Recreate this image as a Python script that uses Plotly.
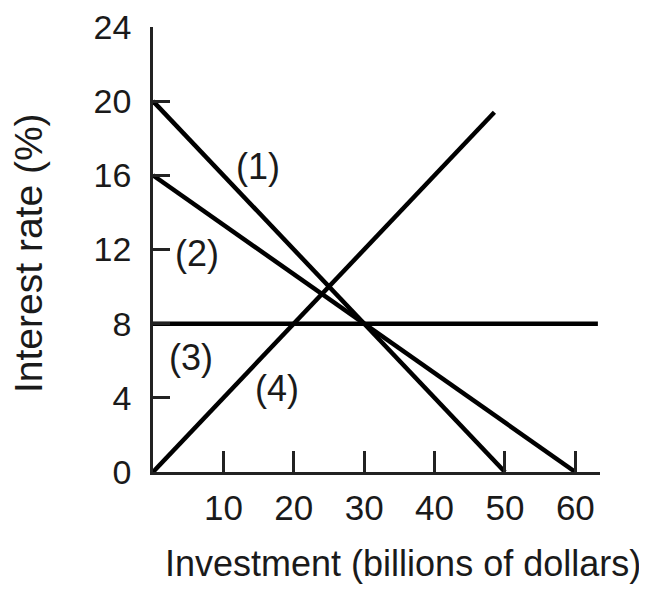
import plotly.graph_objects as go

# Data
line1_x = [0, 50]
line1_y = [20, 0]
line2_x = [0, 60]
line2_y = [16, 0]
line3_x = [0, 63.2]
line3_y = [8, 8]
line4_x = [0, 48.5]
line4_y = [0, 19.4]

x_ticks = [10, 20, 30, 40, 50, 60]
y_ticks = [0, 4, 8, 12, 16, 20, 24]

labels = ["(1)", "(2)", "(3)", "(4)"]
label_x = [14.9, 6.25, 5.4, 17.6]
label_y = [16.5, 11.8, 6.15, 4.5]

FONT = "Liberation Sans, Arial, sans-serif"
TXT = "#1a1a1a"

TOP = 27      # screen y of the 24 tick
BOTTOM = 472  # screen y of the 0 tick
LEFT = 153
RIGHT = 600

fig = go.Figure()
for xs, ys in [(line1_x, line1_y), (line2_x, line2_y), (line3_x, line3_y), (line4_x, line4_y)]:
    fig.add_trace(go.Scatter(x=xs, y=ys, mode="lines",
                             line=dict(color="black", width=4.5),
                             showlegend=False, hoverinfo="skip", cliponaxis=False))

for t, x, y in zip(labels, label_x, label_y):
    fig.add_annotation(x=x, y=y, xref="x", yref="y", text=t, showarrow=False,
                       font=dict(family=FONT, size=36, color=TXT))

ph = BOTTOM - TOP
pw = RIGHT - LEFT
fig.add_annotation(x=(403 - LEFT) / pw, y=(BOTTOM - 563) / ph, xref="paper", yref="paper",
                   text="Investment (billions of dollars)", showarrow=False,
                   font=dict(family=FONT, size=36, color=TXT), xanchor="center", yanchor="middle")
fig.add_annotation(x=(28 - LEFT) / pw, y=(BOTTOM - 253) / ph, xref="paper", yref="paper",
                   text="Interest rate (%)", showarrow=False, textangle=-90,
                   font=dict(family=FONT, size=39, color=TXT), xanchor="center", yanchor="middle")

fig.update_xaxes(range=[0, 63.5], tickvals=x_ticks, ticktext=[str(v) for v in x_ticks],
                 ticks="inside", ticklen=21, tickwidth=2.5, tickcolor="#222",
                 showline=True, linecolor="#222", linewidth=2.5, showgrid=False, zeroline=False,
                 tickfont=dict(family=FONT, size=35, color=TXT), ticklabelstandoff=3,
                 ticklabeloverflow="allow", automargin=False)
fig.update_yaxes(range=[0, 24], tickvals=y_ticks, ticktext=[str(v) for v in y_ticks],
                 ticks="inside", ticklen=17, tickwidth=2.5, tickcolor="#222",
                 showline=True, linecolor="#222", linewidth=2.5, showgrid=False, zeroline=False,
                 tickfont=dict(family=FONT, size=34, color=TXT), ticklabelstandoff=12,
                 ticklabeloverflow="allow", automargin=False)

# page body has an 8px default margin, so the figure is shrunk to fit the window
W, H = 639, 586
fig.update_layout(width=W, height=H,
                  margin=dict(l=LEFT - 8, r=W - (RIGHT - 8), t=TOP - 8, b=H - (BOTTOM - 8)),
                  plot_bgcolor="white", paper_bgcolor="white")

fig.write_html("out.html")
